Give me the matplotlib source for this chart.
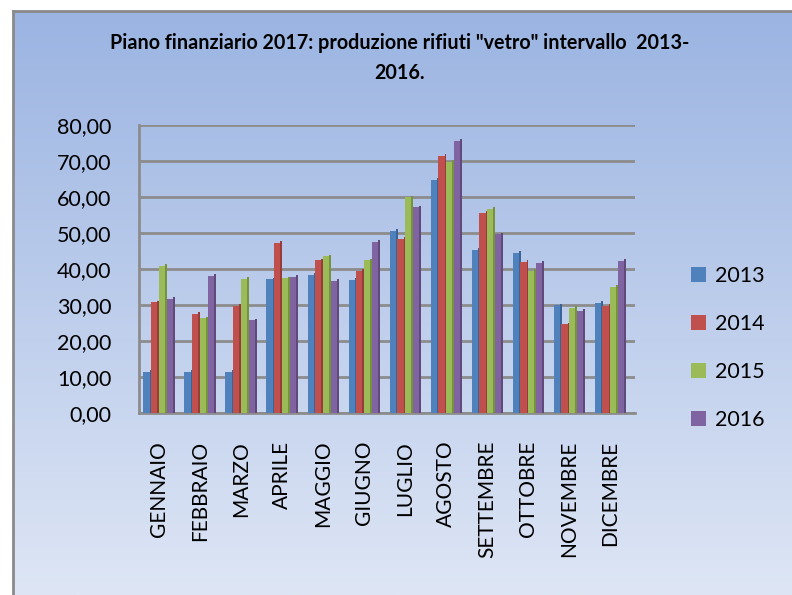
import numpy as np
import matplotlib
matplotlib.use("Agg")
import matplotlib.pyplot as plt
from matplotlib.patches import Patch
from matplotlib.lines import Line2D
from matplotlib.ticker import FuncFormatter, MultipleLocator

plt.rcParams['font.family'] = ['Lato', 'DejaVu Sans']

months = ["GENNAIO", "FEBBRAIO", "MARZO", "APRILE", "MAGGIO", "GIUGNO",
          "LUGLIO", "AGOSTO", "SETTEMBRE", "OTTOBRE", "NOVEMBRE", "DICEMBRE"]
years = ["2013", "2014", "2015", "2016"]
v2013 = [11.5, 11.5, 11.5, 37.1, 38.4, 37.0, 50.6, 64.8, 45.3, 44.5, 29.9, 30.6]
v2014 = [30.7, 27.6, 29.7, 47.3, 42.4, 39.4, 48.4, 71.5, 55.6, 41.9, 24.6, 29.7]
v2015 = [40.9, 26.3, 37.2, 37.4, 43.5, 42.4, 59.9, 69.8, 56.6, 39.5, 29.2, 35.1]
v2016 = [31.8, 38.0, 25.7, 37.7, 36.6, 47.6, 57.1, 75.6, 49.6, 41.6, 28.3, 42.3]
series = [v2013, v2014, v2015, v2016]
colors = ["#4f81bd", "#c0504d", "#9bbb59", "#8064a2"]
dark = ["#3a6496", "#963c3a", "#76923c", "#5f4a7b"]

title = 'Piano finanziario 2017: produzione rifiuti "vetro" intervallo  2013-\n2016.'

W, H = 792, 595
fig = plt.figure(figsize=(W / 100, H / 100), dpi=100)
fig.patch.set_facecolor("white")

# gradient background of chart area
bg = fig.add_axes([13 / W, 0, 1 - 13 / W, 1 - 11 / H])
top = np.array([155, 180, 226]) / 255
bot = np.array([222, 230, 245]) / 255
t = np.linspace(0, 1, 256)[:, None]
grad = (top[None, :] * (1 - t) + bot[None, :] * t)[:, None, :]
bg.imshow(grad, aspect="auto", extent=[0, 1, 0, 1])
bg.set_axis_off()
fig.add_artist(Line2D([12.5 / W, 12.5 / W], [0, 1 - 10.5 / H], transform=fig.transFigure,
                      color="#8a8a8a", lw=2))
fig.add_artist(Line2D([12.5 / W, 1], [1 - 10.5 / H, 1 - 10.5 / H], transform=fig.transFigure,
                      color="#8a8a8a", lw=2))

ax = fig.add_axes([139 / W, (H - 413) / H, 496 / W, 288 / H])
ax.set_facecolor("none")
x = np.arange(len(months))
fw = 0.15
sw = 0.045
step = 0.19
for j, (vals, c, d) in enumerate(zip(series, colors, dark)):
    xs = x + (j - 1.5) * step - sw / 2
    ax.bar(xs + fw / 2 + sw / 2, np.array(vals) + 0.5, width=sw, color=d, zorder=3 + j * 0.1)
    ax.bar(xs, vals, width=fw, color=c, zorder=3.05 + j * 0.1)

ax.set_xlim(-0.49, 11.6)
ax.set_ylim(0, 80)
ax.yaxis.set_major_locator(MultipleLocator(10))
ax.yaxis.set_major_formatter(FuncFormatter(lambda v, p: f"{v:.2f}".replace(".", ",")))
ax.grid(axis="y", color="#8c8c8c", lw=2)
ax.set_axisbelow(True)
for s in ["top", "right"]:
    ax.spines[s].set_visible(False)
ax.spines["left"].set_color("#8c8c8c")
ax.spines["left"].set_linewidth(2)
ax.spines["bottom"].set_color("#8c8c8c")
ax.spines["bottom"].set_linewidth(2)
ax.set_xticks(x)
ax.set_xticklabels(months, rotation=90, fontsize=15)
ax.tick_params(axis="x", length=0, pad=20)
ax.tick_params(axis="y", length=0, pad=20, labelsize=15.5)

fig.text(400 / W, 1 - 58 / H, title, ha="center", va="center", fontsize=14.2,
         fontweight="bold", linespacing=1.6)

handles = [Patch(facecolor=c, edgecolor="none") for c in colors]
fig.legend(handles, years, loc="upper left", bbox_to_anchor=(672 / W, 1 - 247 / H),
           frameon=False, fontsize=15.5, handlelength=0.7, handleheight=0.7,
           handletextpad=0.4, labelspacing=1.29)

fig.savefig("out.png", dpi=100)
